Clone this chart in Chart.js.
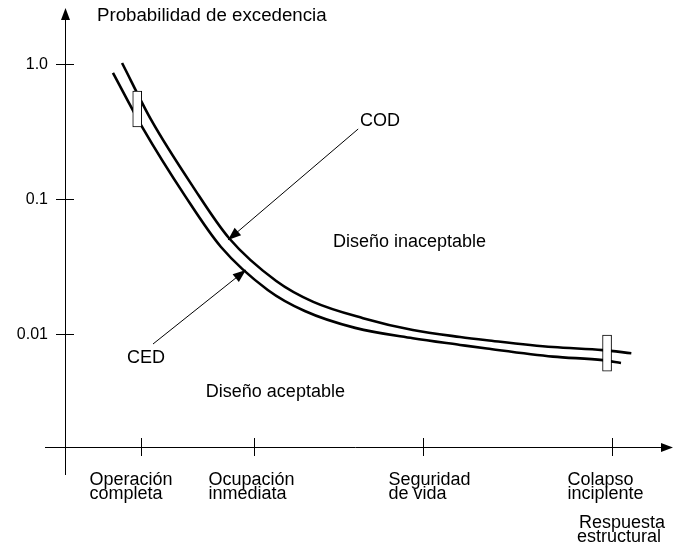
<!DOCTYPE html>
<html>
<head>
<meta charset="utf-8">
<script src="https://cdn.jsdelivr.net/npm/chart.js@4/dist/chart.umd.min.js"></script>
<style>
    html, body { margin: 0; padding: 0; background: #fff; }
</style>
</head>
<body>
<canvas id="curvaChart" width="674" height="555"></canvas>
<script>
// niveles de desempeño (eje x)
const niveles = [1.25, 3.11, 5.9, 9.01];
const nivelesLabels = [['Operación', 'completa'], ['Ocupación', 'inmediata'], ['Seguridad', 'de vida'], ['Colapso', 'incipiente']];

// eje y (probabilidad)
const yTicks = [1, 0.1, 0.01];
const yTickLabels = ['1.0', '0.1', '0.01'];

// curva COD (superior)
const codX = [0.94, 1.42, 2.11, 2.70, 3.48, 4.09, 4.91, 5.73, 6.51, 6.95, 8.04, 8.86, 9.33];
const codY = [1.017, 0.385, 0.123, 0.0514, 0.0247, 0.0173, 0.0131, 0.0107, 0.0095, 0.0090, 0.0080, 0.0076, 0.0072];

// curva CED (inferior)
const cedX = [0.79, 1.27, 1.98, 2.57, 3.34, 3.95, 4.78, 5.73, 6.51, 6.95, 8.04, 8.86, 9.16];
const cedY = [0.858, 0.342, 0.105, 0.0441, 0.0212, 0.0148, 0.0111, 0.0093, 0.0083, 0.0078, 0.0068, 0.0064, 0.0061];

// marcas rectangulares
const marcasX = [1.19, 8.93];
const marcasY = [[0.342, 0.631], [0.0053, 0.0098]];

// anotaciones con flecha
const flechas = [
    { texto: 'COD', tx: 4.86, ty: 0.347, desde: [4.83, 0.33], hasta: [2.685, 0.0497] },
    { texto: 'CED', tx: 1.02, ty: 0.0061, desde: [1.45, 0.00843], hasta: [2.98, 0.0298] }
];
const zonas = [
    { texto: 'Diseño inaceptable', x: 4.415, y: 0.0441 },
    { texto: 'Diseño aceptable', x: 2.32, y: 0.00341 }
];

const FUENTE = '"Liberation Sans", Arial, sans-serif';
const labelShift = [-52, -46, -35, -45];

function punta(ctx, x1, y1, x2, y2, largo, ancho) {
    const ang = Math.atan2(y2 - y1, x2 - x1);
    ctx.beginPath();
    ctx.moveTo(x2, y2);
    ctx.lineTo(x2 - largo * Math.cos(ang) + ancho * Math.sin(ang), y2 - largo * Math.sin(ang) - ancho * Math.cos(ang));
    ctx.lineTo(x2 - largo * Math.cos(ang) - ancho * Math.sin(ang), y2 - largo * Math.sin(ang) + ancho * Math.cos(ang));
    ctx.closePath();
    ctx.fill();
}

const ejes = {
    id: 'ejes',
    beforeDatasetsDraw(chart) {
        const ctx = chart.ctx;
        const a = chart.chartArea;
        const xs = chart.scales.x, ys = chart.scales.y;
        ctx.save();
        ctx.strokeStyle = '#000';
        ctx.fillStyle = '#000';
        ctx.lineWidth = 1;
        // eje y
        ctx.beginPath();
        ctx.moveTo(a.left + 0.5, a.top + 8);
        ctx.lineTo(a.left + 0.5, a.bottom + 28);
        ctx.stroke();
        punta(ctx, a.left + 0.5, a.top + 20, a.left + 0.5, a.top - 2, 12, 4.5);
        // eje x
        ctx.beginPath();
        ctx.moveTo(a.left - 20, a.bottom + 0.5);
        ctx.lineTo(a.right - 6, a.bottom + 0.5);
        ctx.stroke();
        punta(ctx, a.right - 20, a.bottom + 0.5, a.right + 1, a.bottom + 0.5, 12, 4.5);

        // marcas eje y
        ctx.font = '16px ' + FUENTE;
        ctx.textAlign = 'right';
        ctx.textBaseline = 'middle';
        yTicks.forEach((v, i) => {
            const py = Math.round(ys.getPixelForValue(v)) + 0.5;
            ctx.beginPath();
            ctx.moveTo(a.left - 9, py);
            ctx.lineTo(a.left + 9, py);
            ctx.stroke();
            ctx.fillText(yTickLabels[i], a.left - 17, py);
        });

        // marcas eje x
        ctx.font = '18px ' + FUENTE;
        ctx.textAlign = 'left';
        ctx.textBaseline = 'alphabetic';
        niveles.forEach((v, i) => {
            const px = Math.round(xs.getPixelForValue(v)) + 0.5;
            ctx.beginPath();
            ctx.moveTo(px, a.bottom - 9);
            ctx.lineTo(px, a.bottom + 9);
            ctx.stroke();
            nivelesLabels[i].forEach((t, j) => {
                ctx.fillText(t, px + labelShift[i], a.bottom + 38 + j * 14);
            });
        });

        // titulos de ejes
        ctx.font = '18.7px ' + FUENTE;
        ctx.fillText('Probabilidad de excedencia', a.left + 32, 21);
        ctx.font = '18px ' + FUENTE;
        ctx.fillText('Respuesta', a.right - 93, a.bottom + 81);
        ctx.fillText('estructural', a.right - 95, a.bottom + 95);
        ctx.restore();
    },
    afterDatasetsDraw(chart) {
        const ctx = chart.ctx;
        const xs = chart.scales.x, ys = chart.scales.y;
        ctx.save();
        ctx.strokeStyle = '#000';
        ctx.fillStyle = '#000';
        ctx.lineWidth = 1;
        ctx.font = '18px ' + FUENTE;
        ctx.textAlign = 'left';
        ctx.textBaseline = 'alphabetic';
        flechas.forEach(f => {
            const x1 = xs.getPixelForValue(f.desde[0]), y1 = ys.getPixelForValue(f.desde[1]);
            const x2 = xs.getPixelForValue(f.hasta[0]), y2 = ys.getPixelForValue(f.hasta[1]);
            ctx.beginPath();
            ctx.moveTo(x1, y1);
            ctx.lineTo(x2, y2);
            ctx.stroke();
            punta(ctx, x1, y1, x2, y2, 13, 5);
            ctx.fillText(f.texto, xs.getPixelForValue(f.tx), ys.getPixelForValue(f.ty));
        });
        zonas.forEach(z => {
            ctx.fillText(z.texto, xs.getPixelForValue(z.x), ys.getPixelForValue(z.y));
        });
        ctx.restore();
    }
};

new Chart(document.getElementById('curvaChart'), {
    type: 'line',
    data: {
        datasets: [{
            label: 'COD',
            data: codX.map((x, i) => ({ x: x, y: codY[i] })),
            borderColor: '#000',
            borderWidth: 2.6,
            pointRadius: 0,
            cubicInterpolationMode: 'monotone',
            fill: false,
            order: 2
        }, {
            label: 'CED',
            data: cedX.map((x, i) => ({ x: x, y: cedY[i] })),
            borderColor: '#000',
            borderWidth: 2.6,
            pointRadius: 0,
            cubicInterpolationMode: 'monotone',
            fill: false,
            order: 2
        }, {
            type: 'bar',
            label: 'marcas',
            data: marcasX.map((x, i) => ({ x: x, y: marcasY[i] })),
            backgroundColor: '#fff',
            borderColor: '#000',
            borderWidth: 1,
            borderSkipped: false,
            barThickness: 9,
            order: 1
        }]
    },
    options: {
        responsive: false,
        animation: false,
        layout: { padding: { left: 65, right: 2, top: 10, bottom: 108 } },
        plugins: {
            legend: { display: false },
            tooltip: { enabled: false }
        },
        scales: {
            x: { type: 'linear', min: 0, max: 10, offset: false, display: false },
            y: { type: 'logarithmic', min: 0.001455, max: 2.512, display: false }
        }
    },
    plugins: [ejes]
});
</script>
</body>
</html>
